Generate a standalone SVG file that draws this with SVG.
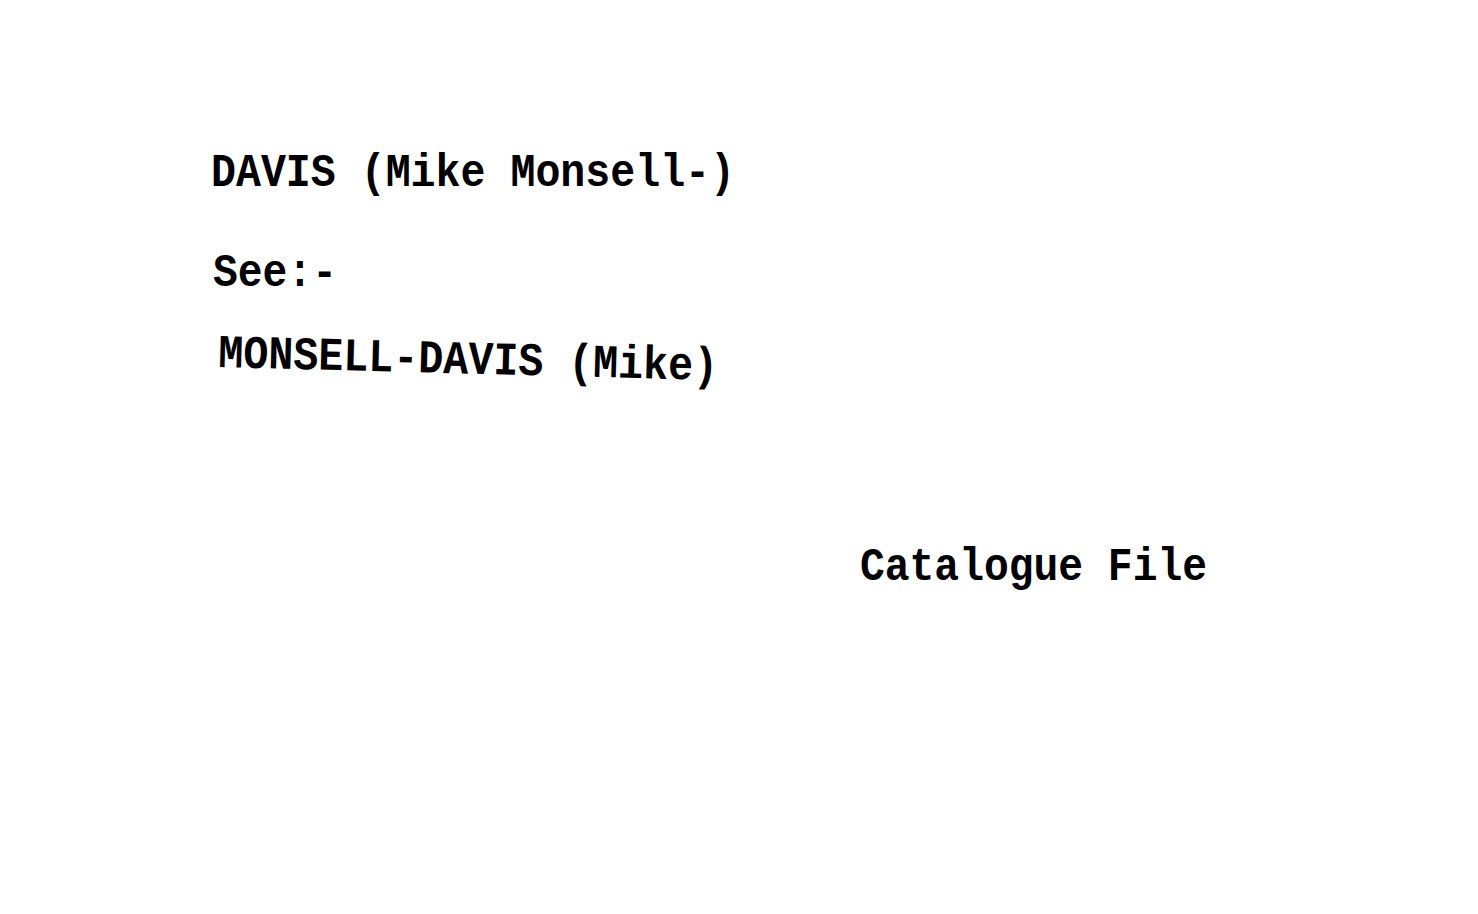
<svg xmlns="http://www.w3.org/2000/svg" width="1478" height="914" viewBox="0 0 1478 914">
<style>
text{font-family:"Liberation Mono","Courier New",monospace;font-weight:bold;font-size:47px;fill:#000}
</style>
<rect width="1478" height="914" fill="#fff"/>
<text x="211" y="186" textLength="524" lengthAdjust="spacingAndGlyphs">DAVIS (Mike Monsell-)</text>
<text x="213" y="286" textLength="124" lengthAdjust="spacingAndGlyphs">See:-</text>
<text x="218" y="367" textLength="500" lengthAdjust="spacingAndGlyphs" transform="rotate(1.5 218 367)">MONSELL-DAVIS (Mike)</text>
<text x="860" y="580" textLength="347" lengthAdjust="spacingAndGlyphs">Catalogue File</text>
</svg>
